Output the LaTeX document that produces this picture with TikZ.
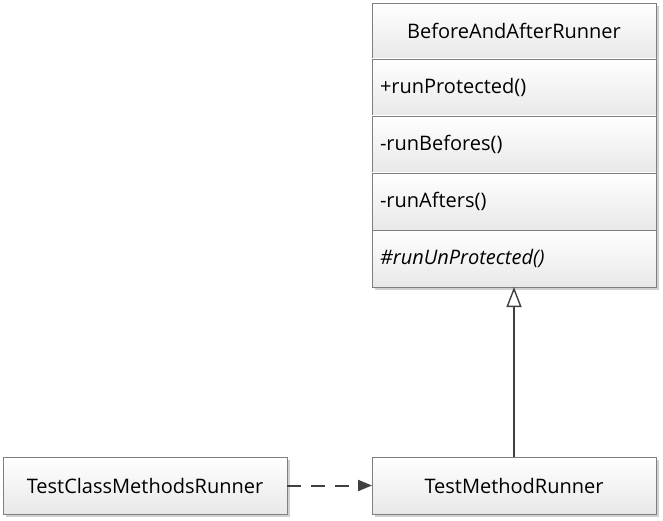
\documentclass[tikz,border=0pt]{standalone}
\usepackage{fontspec}
\setmainfont{Open Sans}
\usetikzlibrary{arrows.meta, positioning, shadows}
\definecolor{mLine}{HTML}{7F7F7F}
\definecolor{mDark}{HTML}{404040}

\begin{document}
\begin{tikzpicture}[x=1pt, y=-1pt,
      cls/.style={draw=mLine, line width=0.9pt, outer sep=0pt, top color=white, bottom color=black!9,
        drop shadow={shadow xshift=3pt, shadow yshift=-3pt, fill=black!18, opacity=1},
        minimum width=284pt, minimum height=57pt, font=\fontsize{20}{24}\selectfont},
      meth/.style={cls, text width=268pt, inner xsep=8pt, align=left},
      inherit/.style={mDark, line width=1.8pt, -{Triangle[open, length=20pt, width=15pt, line width=1.4pt]}},
      dep/.style={mDark, line width=2pt, dash pattern=on 14pt off 10pt, -{Triangle[length=14pt, width=11pt]}}]
    \useasboundingbox (0,0) rectangle (663,521);
    % the abstract base class
    \node[cls, minimum height=56pt] (bar) at (514,31) {BeforeAndAfterRunner};
    \node[meth, below=0pt of bar]     (prot)     {+runProtected()};
    \node[meth, below=0pt of prot]    (befores)  {-runBefores()};
    \node[meth, below=0pt of befores] (afters)   {-runAfters()};
    \node[meth, below=0pt of afters]  (unprot)   {\itshape \#runUnProtected()};
    % runners
    \node[cls] (tcmr) at (145,485.5) {TestClassMethodsRunner};
    \node[cls] (tmr)  at (514,485.5) {TestMethodRunner};
    \draw[inherit] (tmr.north) -- (unprot.south);
    \draw[dep] (tcmr.east) -- (tmr.west);
\end{tikzpicture}
\end{document}
